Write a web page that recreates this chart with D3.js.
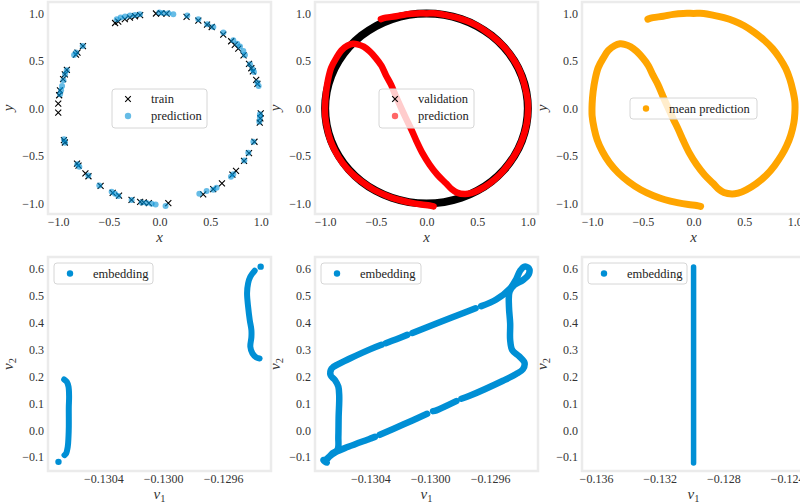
<!DOCTYPE html>
<html>
<head>
<meta charset="utf-8">
<script src="https://cdn.jsdelivr.net/npm/d3@7"></script>
<style>
  body { margin: 0; background: #fff; }
  text { font-family: "Liberation Serif", "Times New Roman", serif; }
</style>
</head>
<body>
<svg id="chart" width="800" height="503"></svg>
<script>
// ---- tick values ----
const xTicksCircle = [-1, -0.5, 0, 0.5, 1];
const yTicksCircle = [-1, -0.5, 0, 0.5, 1];
const yTicksEmbedding = [-0.1, 0, 0.1, 0.2, 0.3, 0.4, 0.5, 0.6];
const xTicksEmbedding = [-0.1304, -0.1300, -0.1296];
const xTicksEmbeddingWide = [-0.136, -0.132, -0.128, -0.124];

// ---- training samples on the circle ----
const trainPoints = [
  [-0.438, 0.899], [-0.407, 0.914], [-0.342, 0.940], [-0.292, 0.956], [-0.242, 0.970],
  [-0.191, 0.982], [-0.035, 0.999], [0.017, 1.000], [0.070, 0.998], [0.267, 0.964],
  [0.383, 0.924], [0.469, 0.883], [0.515, 0.857], [0.629, 0.777], [0.707, 0.707],
  [0.743, 0.669], [0.777, 0.629], [0.829, 0.559], [0.883, 0.469], [0.906, 0.423],
  [0.921, 0.391], [0.954, 0.301], [0.966, 0.259], [0.999, -0.052], [0.995, -0.105],
  [0.989, -0.148], [0.937, -0.350], [0.883, -0.469], [0.834, -0.552], [0.755, -0.656],
  [0.719, -0.695], [0.616, -0.788], [0.530, -0.848], [0.431, -0.903], [0.087, -0.996],
  [-0.105, -0.995], [-0.156, -0.988], [-0.191, -0.982], [-0.276, -0.961], [-0.399, -0.917],
  [-0.462, -0.887], [-0.581, -0.814], [-0.701, -0.713], [-0.731, -0.682], [-0.799, -0.602],
  [-0.814, -0.581], [-0.934, -0.358], [-0.943, -0.334], [-0.999, -0.044], [-0.999, 0.052],
  [-0.990, 0.139], [-0.982, 0.191], [-0.951, 0.309], [-0.934, 0.358], [-0.914, 0.407],
  [-0.824, 0.566], [-0.809, 0.588], [-0.755, 0.656]
];

// ---- model output at the training inputs ----
const trainPrediction = [
  [-0.422, 0.939], [-0.383, 0.956], [-0.340, 0.967], [-0.291, 0.977], [-0.242, 0.984],
  [-0.193, 0.991], [-0.002, 1.009], [0.037, 1.005], [0.087, 1.002], [0.136, 0.991],
  [0.274, 0.977], [0.383, 0.939], [0.472, 0.886], [0.531, 0.858], [0.630, 0.798],
  [0.728, 0.718], [0.767, 0.682], [0.794, 0.651], [0.827, 0.605], [0.843, 0.563],
  [0.893, 0.465], [0.919, 0.412], [0.932, 0.384], [0.965, 0.272], [0.978, 0.237],
  [0.991, -0.061], [0.991, -0.096], [0.985, -0.139], [0.926, -0.349], [0.876, -0.465],
  [0.837, -0.546], [0.728, -0.693], [0.705, -0.718], [0.563, -0.833], [0.531, -0.854],
  [0.465, -0.868], [0.393, -0.896], [0.060, -1.026], [-0.038, -1.009], [-0.078, -1.002],
  [-0.127, -0.995], [-0.176, -0.988], [-0.275, -0.963], [-0.406, -0.921], [-0.439, -0.896],
  [-0.472, -0.875], [-0.594, -0.809], [-0.702, -0.704], [-0.791, -0.612], [-0.811, -0.588],
  [-0.942, -0.325], [-0.932, -0.360], [-0.981, 0.149], [-0.971, 0.191], [-0.961, 0.237],
  [-0.948, 0.296], [-0.932, 0.360], [-0.915, 0.402], [-0.843, 0.563], [-0.823, 0.588],
  [-0.758, 0.658]
];

// ---- validation samples: the full circle ----
const validationPoints = [
  [1, 0], [0.985, 0.174], [0.940, 0.342], [0.866, 0.5], [0.766, 0.643], [0.643, 0.766],
  [0.5, 0.866], [0.342, 0.940], [0.174, 0.985], [0, 1], [-0.174, 0.985], [-0.342, 0.940],
  [-0.5, 0.866], [-0.643, 0.766], [-0.766, 0.643], [-0.866, 0.5], [-0.940, 0.342], [-0.985, 0.174],
  [-1, 0], [-0.985, -0.174], [-0.940, -0.342], [-0.866, -0.5], [-0.766, -0.643], [-0.643, -0.766],
  [-0.5, -0.866], [-0.342, -0.940], [-0.174, -0.985], [0, -1], [0.174, -0.985], [0.342, -0.940],
  [0.5, -0.866], [0.643, -0.766], [0.766, -0.643], [0.866, -0.5], [0.940, -0.342], [0.985, -0.174]
];

// ---- predicted trajectory over the validation inputs (ordered along the path) ----
const predictionPath = [
  [-0.45, 0.94], [-0.40, 0.955], [-0.30, 0.97], [-0.20, 0.99], [-0.10, 1.0], [0.0, 1.0],
  [0.10, 1.0], [0.20, 0.98], [0.30, 0.955], [0.40, 0.92], [0.50, 0.87], [0.60, 0.80],
  [0.70, 0.715], [0.78, 0.63], [0.85, 0.53], [0.91, 0.42], [0.95, 0.31], [0.98, 0.19],
  [1.0, 0.07], [1.0, -0.05], [0.99, -0.15], [0.96, -0.28], [0.92, -0.39], [0.87, -0.49],
  [0.80, -0.60], [0.72, -0.70], [0.62, -0.79], [0.52, -0.855], [0.44, -0.89], [0.38, -0.90],
  [0.30, -0.885], [0.25, -0.85], [0.195, -0.79], [0.11, -0.70], [0.03, -0.59], [-0.04, -0.47],
  [-0.10, -0.34], [-0.15, -0.22], [-0.20, -0.11], [-0.265, 0.04], [-0.31, 0.15], [-0.35, 0.25],
  [-0.40, 0.35], [-0.445, 0.45], [-0.50, 0.53], [-0.56, 0.60], [-0.62, 0.65], [-0.68, 0.675],
  [-0.725, 0.68], [-0.78, 0.66], [-0.84, 0.61], [-0.89, 0.53], [-0.94, 0.43], [-0.97, 0.31],
  [-0.99, 0.18], [-1.0, 0.05], [-1.0, -0.08], [-0.98, -0.21], [-0.95, -0.33], [-0.90, -0.45],
  [-0.83, -0.57], [-0.74, -0.68], [-0.64, -0.77], [-0.52, -0.855], [-0.40, -0.915], [-0.28, -0.96],
  [-0.16, -0.99], [-0.05, -1.01], [0.03, -1.02], [0.07, -1.03]
];

// ---- latent embedding (nu1, nu2), training subset: two vertical branches ----
const embeddingTrainLeft = [
  [-0.130662, 0.189], [-0.130644, 0.180], [-0.130633, 0.162], [-0.130629, 0.125],
  [-0.130631, 0.087], [-0.130631, 0.050], [-0.130631, 0.013], [-0.130633, -0.024],
  [-0.130638, -0.062], [-0.130649, -0.087], [-0.130660, -0.093]
];
const embeddingTrainRight = [
  [-0.129389, 0.594], [-0.129418, 0.572], [-0.129433, 0.547], [-0.129440, 0.510],
  [-0.129433, 0.460], [-0.129422, 0.410], [-0.129411, 0.373], [-0.129411, 0.346],
  [-0.129418, 0.311], [-0.129404, 0.286], [-0.129378, 0.271], [-0.129356, 0.267]
];
const embeddingTrainOutliers = [[-0.130700, -0.118], [-0.129349, 0.609]];

// ---- latent embedding over the validation set: closed loop, stored as
//      consecutive runs of densely packed samples ----
const embeddingLoopRuns = [
  [ // lower diagonal (left part), bottom-left knot, left side, upper diagonal start
    [-0.130370, -0.025], [-0.130403, -0.032], [-0.130548, -0.062], [-0.130626, -0.080],
    [-0.130675, -0.099], [-0.130703, -0.114], [-0.130692, -0.121], [-0.130714, -0.111],
    [-0.130692, -0.109], [-0.130659, -0.089], [-0.130619, -0.072], [-0.130614, -0.024],
    [-0.130612, 0.050], [-0.130608, 0.125], [-0.130614, 0.162], [-0.130637, 0.187],
    [-0.130666, 0.205], [-0.130659, 0.230], [-0.130614, 0.246], [-0.130537, 0.267],
    [-0.130403, 0.301], [-0.130326, 0.318]
  ],
  [[-0.130297, 0.324], [-0.130226, 0.339], [-0.130154, 0.355]],
  [[-0.130119, 0.362], [-0.129959, 0.397], [-0.129826, 0.426], [-0.129697, 0.454]],
  [ // upper diagonal end, top-right knot, right side, lower diagonal start
    [-0.129659, 0.462], [-0.129559, 0.487], [-0.129466, 0.528], [-0.129426, 0.562],
    [-0.129399, 0.594], [-0.129370, 0.609], [-0.129341, 0.603], [-0.129341, 0.582],
    [-0.129381, 0.559], [-0.129437, 0.541], [-0.129470, 0.516], [-0.129474, 0.460],
    [-0.129466, 0.398], [-0.129466, 0.336], [-0.129452, 0.298], [-0.129408, 0.276],
    [-0.129370, 0.251], [-0.129381, 0.227], [-0.129426, 0.209], [-0.129514, 0.184],
    [-0.129737, 0.128], [-0.129792, 0.117]
  ],
  [[-0.129826, 0.108], [-0.129959, 0.074], [-0.129981, 0.071]],
  [[-0.130021, 0.061], [-0.130181, 0.021], [-0.130337, -0.017]]
];

// ---- latent embedding of the mean model: a single column ----
const embeddingMean = [
  [-0.12987, -0.122], [-0.12987, 0.0], [-0.12987, 0.2], [-0.12987, 0.4], [-0.12987, 0.608]
];

// ---- colours ----
const BLUE = "#008fd5", RED = "#ff0000", ORANGE = "#ffa500";

// ---- layout ----
const svg = d3.select("#chart");
const PW = 223;
const colLeft = [48, 315, 582];
const rowSpan = [[2, 214], [257, 471]];
const fmt1 = d3.format(".1f"), fmt3 = d3.format(".3f"), fmt4 = d3.format(".4f");

let clipId = 0;
function makePanel(col, row, xDomain, yDomain, xTicks, yTicks, xFmt, yFmt, xLabel, yLabel) {
  const left = colLeft[col], [top, bottom] = rowSpan[row];
  const x = d3.scaleLinear().domain(xDomain).range([left, left + PW]);
  const y = d3.scaleLinear().domain(yDomain).range([bottom, top]);
  const g = svg.append("g");
  const id = "clip" + (clipId++);
  g.append("clipPath").attr("id", id).append("rect")
    .attr("x", left).attr("y", top).attr("width", PW).attr("height", bottom - top);
  const plot = g.append("g").attr("clip-path", `url(#${id})`);

  const ax = g.append("g").attr("transform", `translate(0,${bottom})`)
    .call(d3.axisBottom(x).tickValues(xTicks).tickFormat(xFmt).tickSize(0).tickPadding(3));
  const ay = g.append("g").attr("transform", `translate(${left},0)`)
    .call(d3.axisLeft(y).tickValues(yTicks).tickFormat(yFmt).tickSize(0).tickPadding(4));
  [ax, ay].forEach(a => {
    a.select(".domain").remove();
    a.selectAll("text").attr("font-size", 12).attr("fill", "#333")
      .attr("font-family", '"Liberation Serif", serif');
  });

  // axis titles
  const xt = g.append("text").attr("x", left + PW / 2).attr("y", bottom + 28)
    .attr("text-anchor", "middle").attr("font-size", 15).attr("fill", "#333")
    .attr("font-style", "italic");
  xt.append("tspan").text(xLabel[0]);
  if (xLabel[1]) xt.append("tspan").attr("font-size", 10.5).attr("font-style", "normal")
    .attr("dy", 3).text(xLabel[1]);
  const yt = g.append("text")
    .attr("transform", `translate(${left - 35},${(top + bottom) / 2}) rotate(-90)`)
    .attr("text-anchor", "middle").attr("font-size", 15).attr("fill", "#333")
    .attr("font-style", "italic");
  yt.append("tspan").text(yLabel[0]);
  if (yLabel[1]) yt.append("tspan").attr("font-size", 10.5).attr("font-style", "normal")
    .attr("dy", 3).text(yLabel[1]);

  return { g, plot, x, y, left, top, bottom };
}

function frame(p) {
  p.g.append("rect").attr("x", p.left).attr("y", p.top).attr("width", PW)
    .attr("height", p.bottom - p.top).attr("fill", "none")
    .attr("stroke", "#ebebeb").attr("stroke-width", 2.5);
}

function crossPath(s) { return `M${-s},${-s}L${s},${s}M${-s},${s}L${s},${-s}`; }

function legend(p, dx, dy, w, entries) {
  const rowH = 17, h = entries.length === 1 ? 21 : 39;
  const lg = p.g.append("g").attr("transform", `translate(${p.left + dx},${p.top + dy})`);
  lg.append("rect").attr("width", w).attr("height", h).attr("rx", 3)
    .attr("fill", "#fff").attr("fill-opacity", 0.8)
    .attr("stroke", "#d6d6d6").attr("stroke-width", 1);
  entries.forEach((e, i) => {
    const cy = (entries.length === 1 ? 10.5 : 10) + i * rowH;
    if (e.kind === "cross") {
      lg.append("path").attr("transform", `translate(16,${cy})`).attr("d", crossPath(2.8))
        .attr("stroke", e.color).attr("stroke-width", 1.1).attr("fill", "none");
    } else {
      lg.append("circle").attr("cx", 16).attr("cy", cy).attr("r", 3.2)
        .attr("fill", e.color).attr("fill-opacity", e.opacity || 1);
    }
    lg.append("text").attr("x", 39).attr("y", cy + 4).attr("font-size", 12.5)
      .attr("fill", "#222").text(e.label);
  });
}

const smooth = d3.curveCatmullRom.alpha(0.5);

function thickPath(p, pts, color, width, curve) {
  p.plot.append("path").datum(pts)
    .attr("d", d3.line().x(d => p.x(d[0])).y(d => p.y(d[1])).curve(curve || smooth))
    .attr("fill", "none").attr("stroke", color).attr("stroke-width", width)
    .attr("stroke-linecap", "round").attr("stroke-linejoin", "round");
}

// ---- panel 1: train vs prediction ----
{
  const p = makePanel(0, 0, [-1.1, 1.1], [-1.11, 1.12], xTicksCircle, yTicksCircle, fmt1, fmt1, ["x"], ["y"]);
  p.plot.selectAll("path.train").data(trainPoints).join("path")
    .attr("transform", d => `translate(${p.x(d[0])},${p.y(d[1])})`)
    .attr("d", crossPath(3)).attr("stroke", "#000").attr("stroke-width", 1.1).attr("fill", "none");
  p.plot.selectAll("circle").data(trainPrediction).join("circle")
    .attr("cx", d => p.x(d[0])).attr("cy", d => p.y(d[1])).attr("r", 3)
    .attr("fill", BLUE).attr("fill-opacity", 0.6);
  frame(p);
  legend(p, 64, 87, 95, [
    { kind: "cross", color: "#000", label: "train" },
    { kind: "dot", color: BLUE, opacity: 0.6, label: "prediction" }
  ]);
}

// ---- panel 2: validation vs prediction ----
{
  const p = makePanel(1, 0, [-1.1, 1.1], [-1.11, 1.12], xTicksCircle, yTicksCircle, fmt1, fmt1, ["x"], ["y"]);
  p.plot.append("path").datum(validationPoints)
    .attr("d", d3.line().x(d => p.x(d[0])).y(d => p.y(d[1])).curve(d3.curveCardinalClosed))
    .attr("fill", "none").attr("stroke", "#000").attr("stroke-width", 8);
  thickPath(p, predictionPath, RED, 6.5);
  frame(p);
  legend(p, 64, 87, 95, [
    { kind: "cross", color: "#000", label: "validation" },
    { kind: "dot", color: RED, opacity: 0.6, label: "prediction" }
  ]);
}

// ---- panel 3: mean prediction ----
{
  const p = makePanel(2, 0, [-1.1, 1.1], [-1.11, 1.12], xTicksCircle, yTicksCircle, fmt1, fmt1, ["x"], ["y"]);
  thickPath(p, predictionPath, ORANGE, 7);
  frame(p);
  legend(p, 48, 96, 127, [{ kind: "dot", color: ORANGE, label: "mean prediction" }]);
}

const embYDomain = [-0.152, 0.645];
const embXDomain = [-0.13077, -0.12928];

// ---- panel 4: training embedding ----
{
  const p = makePanel(0, 1, embXDomain, embYDomain, xTicksEmbedding, yTicksEmbedding, fmt4, fmt1, ["ν", "1"], ["ν", "2"]);
  thickPath(p, embeddingTrainLeft, BLUE, 6);
  thickPath(p, embeddingTrainRight, BLUE, 6);
  p.plot.selectAll("circle").data(embeddingTrainOutliers).join("circle")
    .attr("cx", d => p.x(d[0])).attr("cy", d => p.y(d[1])).attr("r", 3.2).attr("fill", BLUE);
  frame(p);
  legend(p, 6, 6, 99, [{ kind: "dot", color: BLUE, label: "embedding" }]);
}

// ---- panel 5: validation embedding ----
{
  const p = makePanel(1, 1, embXDomain, embYDomain, xTicksEmbedding, yTicksEmbedding, fmt4, fmt1, ["ν", "1"], ["ν", "2"]);
  embeddingLoopRuns.forEach(run => thickPath(p, run, BLUE, 6.5));
  frame(p);
  legend(p, 6, 6, 100, [{ kind: "dot", color: BLUE, label: "embedding" }]);
}

// ---- panel 6: mean-model embedding ----
{
  const p = makePanel(2, 1, [-0.13688, -0.12287], embYDomain, xTicksEmbeddingWide, yTicksEmbedding, fmt3, fmt1, ["ν", "1"], ["ν", "2"]);
  thickPath(p, embeddingMean, BLUE, 5.5, d3.curveLinear);
  frame(p);
  legend(p, 6, 6, 99, [{ kind: "dot", color: BLUE, label: "embedding" }]);
}
</script>
</body>
</html>
